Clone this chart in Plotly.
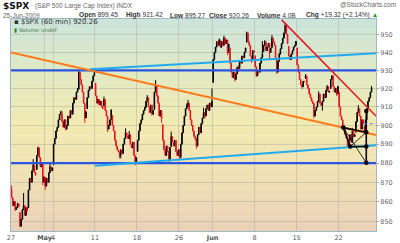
import plotly.graph_objects as go
import math

# ---------------- data ----------------
day_open = [866.2, 854.5, 856.9, 876.6, 872.7, 879.2, 906.1, 904.0, 919.6, 909.0,
            923.0, 910.5, 905.4, 884.2, 892.8, 886.1, 909.7, 908.6, 900.4, 888.7,
            887.0, 910.0, 893.0, 907.0, 923.3, 942.9, 942.5, 932.5, 945.7, 938.1,
            940.4, 942.7, 939.0, 943.4, 942.5, 925.6, 911.9, 910.9, 920.0, 918.1,
            893.5, 896.3, 899.5]
day_high = [868.3, 864.5, 882.1, 888.7, 880.5, 907.9, 907.7, 920.3, 929.6, 930.2,
            923.0, 915.6, 905.4, 898.4, 897.0, 910.0, 916.4, 924.6, 900.4, 896.7,
            911.8, 913.8, 909.5, 920.0, 947.8, 949.4, 942.5, 942.5, 951.7, 946.3,
            946.9, 949.8, 956.2, 946.3, 942.5, 928.0, 918.4, 921.9, 927.1, 918.1,
            898.7, 910.9, 921.4]
day_low = [855.2, 847.1, 856.9, 868.5, 866.1, 879.2, 897.3, 904.0, 901.4, 909.0,
           908.7, 896.5, 882.5, 882.5, 878.9, 886.1, 905.2, 901.4, 879.6, 883.8,
           881.5, 891.9, 887.6, 903.6, 923.3, 938.5, 923.9, 929.3, 934.1, 926.4,
           936.2, 928.0, 939.0, 935.7, 919.7, 911.6, 903.8, 907.9, 915.8, 893.0,
           888.9, 896.3, 895.3]

hourly_close = [
    [862, 858, 860, 856, 857, 859, 857.5],
    [847.5, 851, 856, 858, 853, 857, 855.2],
    [866, 872, 870, 876, 879, 875, 873.6],
    [884, 888, 883, 878, 880, 870, 872.8],
    [868, 872, 870, 875, 878, 876, 877.5],
    [890, 893, 897, 899, 903, 906, 907.2],
    [902, 899, 903, 898, 900, 905, 903.8],
    [908, 906, 912, 915, 914, 918, 919.5],
    [929, 925, 922, 918, 912, 904, 907.4],
    [915, 919, 921, 920, 924, 927, 929.2],
    [916, 912, 914, 911, 913, 910, 909.2],
    [914, 908, 905, 898, 900, 903, 908.4],
    [900, 897, 892, 889, 887, 886, 883.9],
    [887, 885, 890, 893, 896, 894, 893.1],
    [895, 890, 888, 891, 884, 880, 882.9],
    [892, 897, 901, 903, 906, 908, 909.7],
    [913, 915, 910, 907, 911, 906, 908.1],
    [918, 922, 916, 912, 905, 908, 903.5],
    [892, 887, 884, 889, 886, 882, 888.3],
    [894, 891, 889, 892, 886, 884, 887.0],
    [883, 890, 896, 900, 905, 909, 910.3],
    [912, 908, 903, 900, 897, 894, 893.1],
    [889, 895, 899, 896, 901, 904, 906.8],
    [905, 909, 911, 908, 912, 910, 913.0],
    [936, 940, 943, 946, 944, 947, 942.9],
    [946, 944, 948, 945, 947, 940, 944.7],
    [934, 929, 926, 929, 925, 928, 931.8],
    [931, 935, 934, 938, 937, 940, 942.5],
    [951, 946, 944, 938, 936, 941, 940.1],
    [932, 927, 930, 929, 934, 937, 939.1],
    [944, 946, 941, 943, 945, 940, 942.4],
    [948, 946, 944, 936, 929, 935, 939.2],
    [942, 945, 948, 951, 955, 950, 944.9],
    [938, 936, 939, 941, 943, 944, 946.2],
    [933, 929, 925, 922, 921, 924, 923.7],
    [927, 922, 920, 917, 915, 913, 912.0],
    [905, 908, 910, 913, 917, 912, 910.7],
    [913, 917, 915, 919, 921, 918, 918.4],
    [925, 927, 921, 918, 920, 917, 921.2],
    [910, 905, 903, 900, 898, 895, 893.0],
    [889, 892, 895, 891, 897, 894, 895.1],
    [902, 907, 909, 905, 898, 903, 900.9],
    [897, 903, 909, 913, 915, 918, 920.3],
]

bars_per_day = 7
tick_vals = [0, 28, 35, 70, 105, 140, 168, 203, 238, 273]
tick_text = ["27", "<b>May</b>", "4", "11", "18", "26", "<b>Jun</b>", "8", "15", "22"]
price_ticks = [850, 860, 870, 880, 890, 900, 910, 920, 930, 940, 950]

# trendlines: (bar index, price) endpoints
blue_levels = [930, 880]
upper_cyan = [(65.8, 930.6), (304.2, 939.5)]
lower_cyan = [(70.0, 878.6), (304.2, 889.4)]
orange_line = [(0.0, 939.9), (304.2, 894.9)]
red_line = [(225.6, 958.4), (304.2, 905.0)]
pts = {"A": (276.9, 898.8), "B": (282.75, 888.7), "C": (296.1, 896.3),
       "D": (296.1, 888.7), "E": (296.1, 880.2), "F": (296.1, 907.8)}
thick_segs = [("A", "C"), ("A", "B"), ("B", "D"), ("F", "E")]
thin_segs = [("A", "E"), ("B", "C")]
prev_close = 900.94

# ---------------- build bars ----------------
xs, o, h, l, c = [], [], [], [], []
for d, closes in enumerate(hourly_close):
    dh, dl = [], []
    for k, cl in enumerate(closes):
        op = day_open[d] if k == 0 else closes[k - 1]
        xs.append(d * bars_per_day + k + 0.5)
        o.append(op); c.append(cl)
        dh.append(max(op, cl)); dl.append(min(op, cl))
    # attach the day's extreme high / low as wicks on the bars where they occur
    ih = dh.index(max(dh)); il = dl.index(min(dl))
    dh[ih] = max(dh[ih], day_high[d]); dl[il] = min(dl[il], day_low[d])
    h.extend(dh); l.extend(dl)

fig = go.Figure()

# gradient background bands
stops = [(0.0, (234, 209, 184)), (0.3, (240, 226, 180)), (0.5, (242, 234, 178)),
         (0.75, (224, 233, 195)), (1.0, (204, 228, 220))]
def col(f):
    for i in range(len(stops) - 1):
        a, ca = stops[i]; b, cb = stops[i + 1]
        if a <= f <= b:
            t = (f - a) / (b - a)
            return "rgb(%d,%d,%d)" % tuple(round(ca[j] + t * (cb[j] - ca[j])) for j in range(3))
    return "rgb(%d,%d,%d)" % stops[-1][1]
nb = 60
for i in range(nb):
    fig.add_shape(type="rect", xref="paper", yref="paper", x0=0, x1=1,
                  y0=i / nb, y1=(i + 1) / nb + 0.002, line_width=0,
                  fillcolor=col((i + 0.5) / nb), layer="below")

fig.add_trace(go.Candlestick(
    x=xs, open=o, high=h, low=l, close=c,
    increasing=dict(line=dict(color="black", width=1), fillcolor="black"),
    decreasing=dict(line=dict(color="#e8141e", width=1), fillcolor="#e8141e"),
    whiskerwidth=0, hoverinfo="skip", showlegend=False))

def line(pts_, color, width, dash="solid"):
    fig.add_trace(go.Scatter(x=[p[0] for p in pts_], y=[p[1] for p in pts_], mode="lines",
                             line=dict(color=color, width=width, dash=dash),
                             hoverinfo="skip", showlegend=False, cliponaxis=True))

for lv in blue_levels:
    line([(0, lv), (304.2, lv)], "#2a55e0", 2.2)
line(upper_cyan, "#22aaee", 2)
line(lower_cyan, "#22aaee", 2)
line(orange_line, "#ff7a1a", 2)
line(red_line, "#e8141e", 1.5)
for a, b in thick_segs:
    line([pts[a], pts[b]], "black", 1.6)
for a, b in thin_segs:
    line([pts[a], pts[b]], "black", 0.8)
fig.add_trace(go.Scatter(x=[p[0] for p in pts.values()], y=[p[1] for p in pts.values()],
                         mode="markers", marker=dict(color="black", size=4.5),
                         hoverinfo="skip", showlegend=False))
line([(294, prev_close), (304.2, prev_close)], "#6a6aff", 1, "dot")

ylo, yhi = 845.1, 958.9
fig.update_layout(
    width=400, height=243, margin=dict(l=11, r=24, t=19, b=12),
    paper_bgcolor="white", plot_bgcolor="rgba(0,0,0,0)",
    font=dict(family="DejaVu Sans", size=7, color="#555"),
    xaxis=dict(range=[0, 304.2], tickvals=tick_vals, ticktext=tick_text,
               showgrid=True, gridcolor="rgba(170,170,150,0.45)", gridwidth=1,
               rangeslider=dict(visible=False), zeroline=False, ticks="",
               tickangle=0, automargin=False,
               tickfont=dict(size=6.5, color="#555", family="DejaVu Sans"), showline=True,
               linecolor="#9fb8c6", mirror=True, fixedrange=True),
    yaxis=dict(type="log", range=[math.log10(ylo), math.log10(yhi)], side="right",
               tickvals=price_ticks, ticktext=[str(v) for v in price_ticks],
               showgrid=True, gridcolor="rgba(170,170,150,0.45)", gridwidth=1,
               zeroline=False, ticks="outside", ticklen=2, tickcolor="#aaa",
               automargin=False,
               tickfont=dict(size=6.5, color="#666", family="DejaVu Sans"), showline=True,
               linecolor="#9fb8c6", mirror=True, fixedrange=True),
    hovermode=False,
)

W, H, L, T = 365.0, 212.0, 11.0, 19.0
def px(x): return (x - L) / W
def py(y): return (T + H - y) / H
def ann(text, x, y, size=7, color="#555", anchor="left", family="Liberation Sans"):
    fig.add_annotation(text=text, xref="paper", yref="paper", x=px(x), y=py(y),
                       xanchor=anchor, yanchor="middle", showarrow=False,
                       font=dict(size=size, color=color, family=family))

ann("<b>$SPX</b>", 1, 5.5, size=9, color="#111", family="DejaVu Sans")
ann("(S&P 500 Large Cap Index) INDX", 33, 5.5, size=6.5, color="#666")
ann("@StockCharts.com", 398, 4.5, size=6.5, color="#666", anchor="right")
ann("25-Jun-2009", 1, 15, size=6.5, color="#666")
ann("<b>Open</b> 899.45", 77, 15, size=6.6, color="#333")
ann("<b>High</b> 921.42", 124, 15, size=6.6, color="#333")
ann("<b>Low</b> 895.27", 168, 15, size=6.6, color="#333")
ann("<b>Close</b> 920.26", 207, 15, size=6.6, color="#333")
ann("<b>Volume</b> 4.0B", 255, 15, size=6.6, color="#333")
ann("<b>Chg</b> +19.32 (+2.14%) <span style='color:#1a9a1a'>▲</span>", 304, 15, size=6.6, color="#333")
ann("▪ $SPX (60 min) 920.26", 12, 22.5, size=7, color="#333", family="DejaVu Sans")
ann("<span style='color:#2a8a2a'>▮</span> Volume undef", 12, 30.5, size=5.5, color="#4a7a4a", family="DejaVu Sans")

fig.write_html("out.html")
